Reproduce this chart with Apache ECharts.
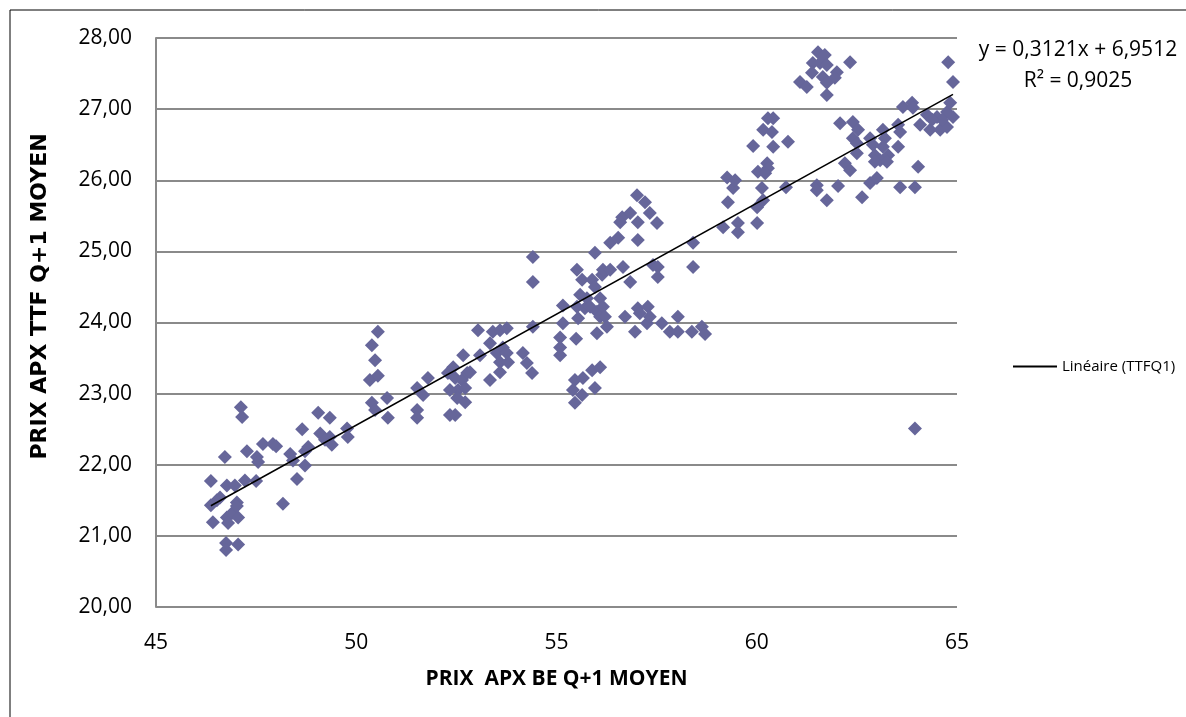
<!DOCTYPE html>
<html>
<head>
<meta charset="utf-8">
<title>PRIX APX BE Q+1 / TTF Q+1</title>
<script src="https://cdn.jsdelivr.net/npm/echarts@6/dist/echarts.min.js"></script>
<style>
  html, body { margin: 0; padding: 0; background: #fff; }
  #chart { width: 1186px; height: 717px; }
</style>
</head>
<body>
<div id="chart"></div>
<script>
// Monthly averages: APX BE Q+1 (x) vs APX TTF Q+1 (y)
const samples = [
  [46.37,21.77],[46.37,21.43],[46.42,21.19],[46.52,21.50],[46.60,21.54],[46.72,22.11],[46.77,21.71],[46.97,21.71],
  [46.77,21.26],[46.90,21.32],[47.05,21.26],[46.80,21.18],[47.02,21.47],[47.02,21.42],[46.75,20.90],[46.75,20.80],
  [47.05,20.88],[47.12,22.81],[47.15,22.67],[47.22,21.78],[47.50,21.77],[47.27,22.19],[47.52,22.11],[47.55,22.04],
  [47.67,22.29],[47.92,22.29],[48.00,22.26],[48.17,21.45],[48.35,22.15],[48.42,22.06],[48.52,21.80],[48.65,22.50],
  [48.72,22.19],[48.80,22.25],[48.72,21.99],
  [49.05,22.73],[49.10,22.44],[49.34,22.66],[49.34,22.39],[49.39,22.28],[49.77,22.51],[49.79,22.39],[49.22,22.35],
  [50.34,23.19],[50.39,23.68],[50.54,23.87],[50.47,23.47],[50.54,23.25],[50.39,22.87],[50.47,22.77],[50.77,22.94],
  [50.79,22.66],
  [51.52,23.08],[51.67,22.98],[51.52,22.77],[51.52,22.66],[51.79,23.22],[52.29,23.29],[52.42,23.37],[52.67,23.54],
  [52.47,23.22],[52.64,23.19],[52.77,23.29],[52.84,23.30],[52.54,23.05],[52.72,23.08],[52.52,22.94],[52.72,22.88],
  [52.47,22.70],[53.04,23.89],[53.09,23.54],[53.34,23.19],[53.34,23.71],[53.41,23.87],[53.59,23.89],[53.76,23.92],
  [53.51,23.57],[53.66,23.65],[53.76,23.57],[53.59,23.44],[53.79,23.44],[53.59,23.30],[54.16,23.57],[54.26,23.43],
  [54.39,23.29],[54.41,24.92],[54.41,24.57],[54.41,23.94],[52.34,23.05],[52.34,22.70],
  [55.09,23.79],[55.09,23.65],[55.09,23.54],[55.16,24.24],[55.16,23.99],[55.49,23.77],[55.51,24.74],[55.64,24.60],
  [55.51,24.22],[55.54,24.06],[55.59,24.39],[55.71,24.20],[55.76,24.34],[55.84,24.22],[55.89,24.60],[55.96,24.50],
  [56.01,24.15],[56.09,24.08],[56.14,24.67],[56.16,24.74],[56.09,24.34],[56.16,24.22],[56.21,24.08],[56.01,23.85],
  [56.26,23.94],[55.96,24.98],[56.34,25.12],[56.54,25.19],[56.64,25.48],[56.59,25.41],[56.84,25.54],[57.01,25.79],
  [57.21,25.69],[57.33,25.54],[57.03,25.41],[57.03,25.16],[57.51,25.40],[56.34,24.74],[56.66,24.78],[56.84,24.57],
  [56.71,24.08],[57.03,24.20],[57.28,24.22],[57.08,24.13],[56.96,23.87],[57.26,23.99],[57.33,24.08],
  [55.46,23.19],[55.66,23.22],[55.89,23.33],[56.09,23.37],[55.96,23.08],[55.41,23.05],[55.64,22.98],[55.46,22.87],
  [57.63,23.99],[57.83,23.87],[58.03,24.08],[58.03,23.87],[58.38,23.87],[58.63,23.94],[58.71,23.84],[57.41,24.81],
  [57.53,24.78],[57.53,24.64],[58.41,25.12],[58.41,24.78],
  [59.16,25.34],[59.53,25.40],[59.53,25.27],[60.01,25.40],[59.28,25.69],[59.41,25.89],[60.13,25.89],[60.01,25.62],
  [60.16,25.72],[60.73,25.90],[59.26,26.04],[59.46,26.00],[60.28,26.87],[60.41,26.87],[60.16,26.71],[60.38,26.68],
  [59.91,26.48],[60.41,26.47],[60.78,26.54],[60.26,26.24],[60.28,26.17],[60.03,26.12],[60.21,26.10],
  [61.53,27.80],[61.70,27.76],[61.40,27.65],[61.58,27.65],[61.75,27.62],[61.38,27.51],[61.65,27.45],[62.00,27.52],
  [61.95,27.44],[61.08,27.38],[61.25,27.31],[61.75,27.37],[61.75,27.20],[62.33,27.66],
  [64.78,27.66],[64.90,27.38],[62.08,26.80],[62.40,26.82],[62.53,26.71],[62.40,26.59],[62.83,26.59],[62.50,26.52],
  [62.90,26.50],[63.15,26.71],[63.53,26.78],[63.58,26.68],[63.20,26.59],[63.15,26.47],[63.53,26.47],[62.50,26.38],
  [62.95,26.35],[63.28,26.35],[63.08,26.28],[63.25,26.26],[62.95,26.26],[62.20,26.24],[62.33,26.14],[64.03,26.19],
  [63.65,27.03],[63.88,27.09],[63.90,27.02],[64.08,26.78],[64.33,26.71],[64.58,26.71],[64.75,26.75],[64.25,26.92],
  [64.50,26.89],[64.75,26.96],[64.83,27.09],[64.90,26.89],[64.63,26.85],[64.38,26.85],
  [61.50,25.93],[61.50,25.86],[61.75,25.72],[62.03,25.92],[62.63,25.76],[62.83,25.96],[63.00,26.03],[63.58,25.90],
  [63.95,25.90],[63.95,22.51]
];

// Linear trend (TTFQ1) as reported on the chart
const slope = 0.3121;
const intercept = 6.9512;
const rSquared = 0.9025;
const trendName = 'Linéaire (TTFQ1)';

const xTitle = 'PRIX  APX BE Q+1 MOYEN';
const yTitle = 'PRIX APX TTF Q+1 MOYEN';

const fr = (v, d) => v.toFixed(d).replace('.', ',');

const xs = samples.map(p => p[0]);
const xMin = Math.min(...xs);
const xMax = Math.max(...xs);
const trend = [[xMin, slope * xMin + intercept], [xMax, slope * xMax + intercept]];

const gridColor = '#8a8a8a';
const labelFont = 'Open Sans';

const chart = echarts.init(document.getElementById('chart'), null, { renderer: 'canvas' });
chart.setOption({
  animation: false,
  backgroundColor: '#ffffff',
  grid: { left: 156, top: 38, right: 229, bottom: 110 },
  legend: {
    data: [trendName],
    left: 1008, top: 354,
    icon: 'rect', itemWidth: 44, itemHeight: 2,
    textStyle: { fontFamily: labelFont, fontSize: 15, color: '#000' }
  },
  xAxis: {
    type: 'value', min: 45, max: 65, interval: 5,
    axisLine: { show: false },
    axisTick: { show: false },
    splitLine: { show: false },
    axisLabel: { fontFamily: labelFont, fontSize: 21, color: '#000', margin: 26 },
    name: xTitle, nameLocation: 'middle', nameGap: 62,
    nameTextStyle: { fontFamily: labelFont, fontWeight: 'bold', fontSize: 21, color: '#000' }
  },
  yAxis: {
    type: 'value', min: 20, max: 28, interval: 1,
    axisLine: { show: true, lineStyle: { color: gridColor, width: 2 } },
    axisTick: { show: false },
    splitLine: { show: true, lineStyle: { color: gridColor, width: 2 } },
    axisLabel: { fontFamily: labelFont, fontSize: 21, color: '#000', margin: 24, formatter: v => fr(v, 2) },
    name: yTitle, nameLocation: 'middle', nameRotate: 90, nameGap: 105,
    nameTextStyle: { fontFamily: 'DejaVu Sans', fontWeight: 'bold', fontSize: 22, color: '#000',
                     padding: [0, 0, 0, 52] }
  },
  series: [
    {
      name: 'TTFQ1', type: 'scatter', data: samples,
      symbol: 'diamond', symbolSize: 14,
      itemStyle: { color: '#66669a', opacity: 1 },
      z: 2
    },
    {
      name: trendName, type: 'line', data: trend,
      showSymbol: false, symbol: 'none',
      lineStyle: { color: '#000', width: 1.5 },
      itemStyle: { color: '#000' },
      z: 3
    }
  ],
  graphic: [
    { type: 'rect', shape: { x: 10, y: 10, width: 1300, height: 800 },
      style: { fill: 'none', stroke: '#000', lineWidth: 1 }, silent: true },
    { type: 'text', x: 1078, y: 50,
      style: { text: 'y = ' + fr(slope, 4) + 'x + ' + fr(intercept, 4), font: '21px "Open Sans"',
               fill: '#000', align: 'center', verticalAlign: 'middle' } },
    { type: 'text', x: 1078, y: 81,
      style: { text: 'R² = ' + fr(rSquared, 4), font: '21px "Open Sans"',
               fill: '#000', align: 'center', verticalAlign: 'middle' } }
  ]
});
</script>
</body>
</html>
